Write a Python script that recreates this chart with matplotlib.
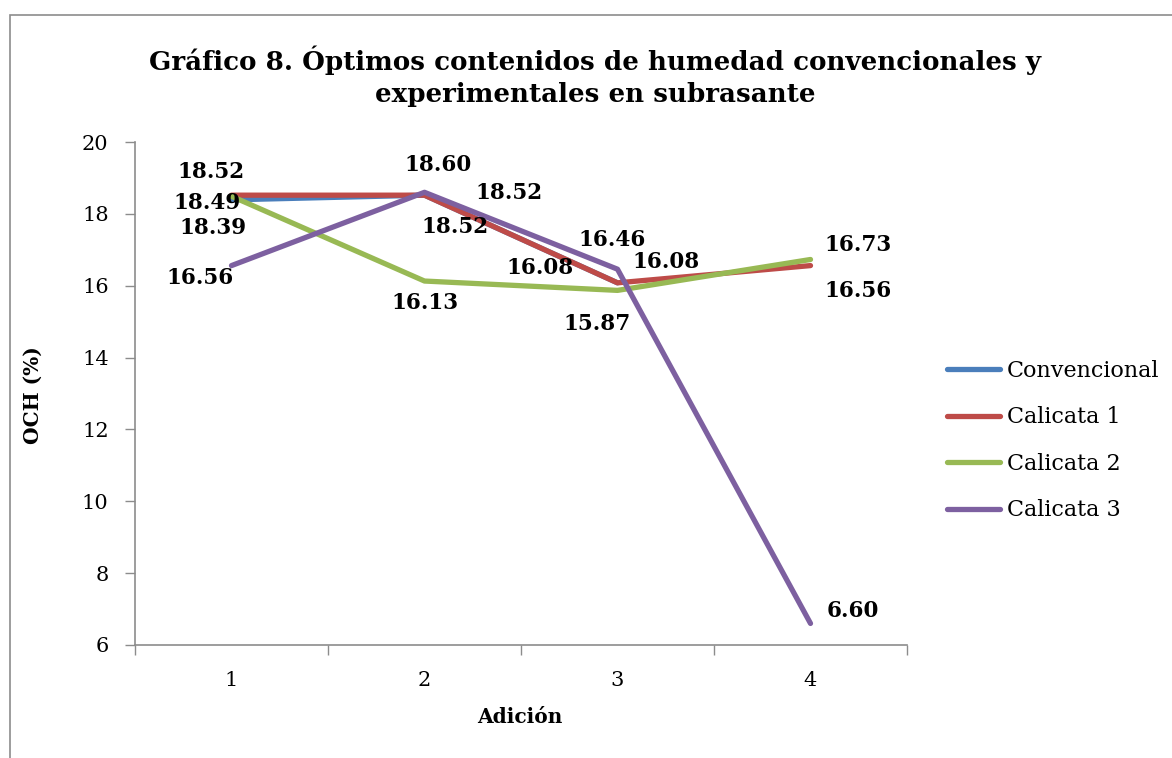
import numpy as np
import matplotlib
matplotlib.use("Agg")
import matplotlib.pyplot as plt
from matplotlib.patches import Rectangle

# ---- data ----
adicion = [1, 2, 3, 4]
convencional = [18.39, 18.52, 16.08, np.nan]
calicata1 = [18.52, 18.52, 16.08, 16.56]
calicata2 = [18.49, 16.13, 15.87, 16.73]
calicata3 = [16.56, 18.60, 16.46, 6.60]
series_names = ["Convencional", "Calicata 1", "Calicata 2", "Calicata 3"]
yticks = [6, 8, 10, 12, 14, 16, 18, 20]

# ---- styles ----
colors = ["#4A7EBB", "#BE4B48", "#98B954", "#7D60A0"]
# label offsets in pixels (dx right, dy down) per series per point
offsets = [
    [(-19, 28), (31, 32), (-77, -15), None],
    [(-20, -23), (84, -2), (49, -21), (48, 25)],
    [(-24, 7), (0, 22), (-20, 34), (48, -14)],
    [(-31, 12), (14, -27), (-5, -29), (42, -12)],
]

W, H, DPI = 1172, 758, 100
fig = plt.figure(figsize=(W / DPI, H / DPI), dpi=DPI)
serif = ["DejaVu Serif"]

# outer chart border (bottom and right edges fall outside the picture)
fig.patches.append(Rectangle((10 / W, -0.2), 1.2, 1.2 - 15 / H, transform=fig.transFigure,
                             fill=False, edgecolor="#8c8c8c", linewidth=1.2))

ax = fig.add_axes([135 / W, 1 - 645 / H, (907 - 135) / W, (645 - 142) / H])
data = [convencional, calicata1, calicata2, calicata3]
for vals, name, c in zip(data, series_names, colors):
    ax.plot(adicion, vals, color=c, linewidth=3.8, label=name, solid_capstyle="round")

px = 72 / DPI
for vals, offs in zip(data, offsets):
    for x, v, o in zip(adicion, vals, offs):
        if o is None or np.isnan(v):
            continue
        ax.annotate(f"{v:.2f}", (x, v), xytext=(o[0] * px, -o[1] * px),
                    textcoords="offset points", ha="center", va="center",
                    fontsize=15.5, fontweight="bold", family=serif, color="black")

ax.set_xlim(0.5, 4.5)
ax.set_ylim(6, 20)
ax.set_yticks(yticks)
ax.set_xticks(adicion)
ax.set_xticks([0.5, 1.5, 2.5, 3.5, 4.5], minor=True)
ax.tick_params(axis="x", which="major", length=0, pad=19, labelsize=15)
ax.tick_params(axis="x", which="minor", length=7, width=1, color="#8c8c8c", direction="out")
ax.tick_params(axis="y", length=7, width=1, color="#8c8c8c", direction="out", labelsize=15, pad=12)
for lab in ax.get_xticklabels() + ax.get_yticklabels():
    lab.set_family(serif)
for s in ["top", "right"]:
    ax.spines[s].set_visible(False)
for s in ["left", "bottom"]:
    ax.spines[s].set_color("#8c8c8c")
    ax.spines[s].set_linewidth(1.2)

fig.text(33 / W, 1 - 395 / H, "OCH (%)", rotation=90, ha="center", va="center",
         fontsize=14.5, fontweight="bold", family=serif)
fig.text(520 / W, 1 - 717 / H, "Adición", ha="center", va="center",
         fontsize=14.5, fontweight="bold", family=serif)
fig.text(595 / W, 1 - 76 / H,
         "Gráfico 8. Óptimos contenidos de humedad convencionales y\nexperimentales en subrasante",
         ha="center", va="center", fontsize=18.8, fontweight="bold", family=serif,
         linespacing=1.35)

leg = fig.legend(loc="upper left", bbox_to_anchor=(927 / W, 1 - 340 / H), frameon=False,
                 prop={"family": serif, "size": 16}, handlelength=2.4, handletextpad=0.3,
                 labelspacing=1.1)

fig.savefig("out.png", dpi=DPI)
